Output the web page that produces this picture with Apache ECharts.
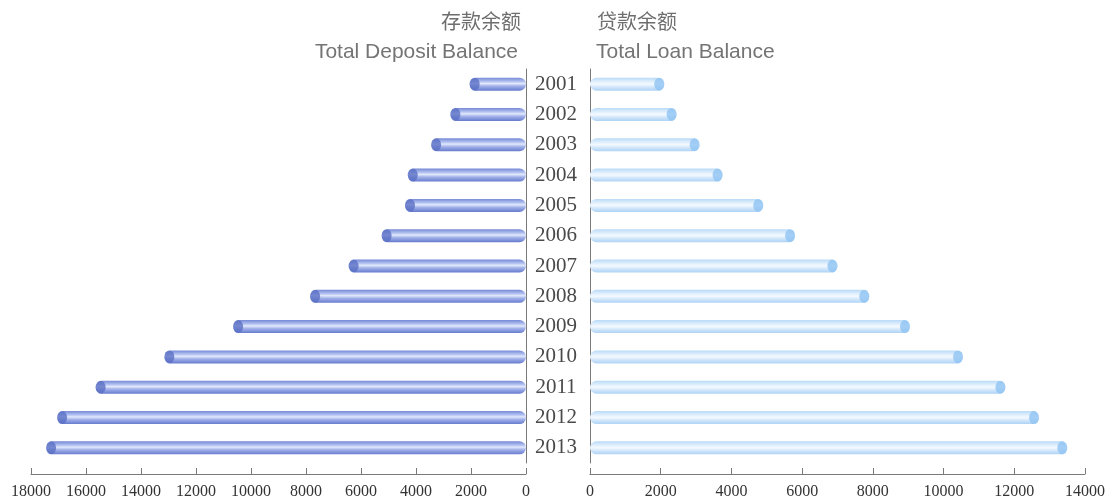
<!DOCTYPE html>
<html>
<head>
<meta charset="utf-8">
<script src="https://cdn.jsdelivr.net/npm/echarts@6/dist/echarts.min.js"></script>
<style>html,body{margin:0;padding:0;background:#fff;}#c{width:1108px;height:504px;}</style>
</head>
<body>
<div id="c"></div>
<script>
const years = ['2001','2002','2003','2004','2005','2006','2007','2008','2009','2010','2011','2012','2013'];
const deposit = [2050, 2750, 3450, 4300, 4400, 5250, 6450, 7850, 10650, 13150, 15650, 17050, 17450];
const loan = [2100, 2450, 3100, 3750, 4900, 5800, 7000, 7900, 9050, 10550, 11750, 12700, 13500];
const depositTicks = { min: 0, max: 18000, interval: 2000 };
const loanTicks = { min: 0, max: 14000, interval: 2000 };

const chart = echarts.init(document.getElementById('c'), null, { renderer: 'canvas' });
const serif = '"Liberation Serif", "DejaVu Serif", serif';
const sans = '"Liberation Sans", Arial, sans-serif';
const cjk = '"Noto Sans CJK SC", sans-serif';
const axisColor = '#7a7a7a';

const leftGrad = new echarts.graphic.LinearGradient(0, 0, 0, 1, [
  { offset: 0, color: '#7689d6' },
  { offset: 0.3, color: '#b3c2f1' },
  { offset: 0.45, color: '#e2e9fc' },
  { offset: 0.65, color: '#a2b1e9' },
  { offset: 1, color: '#667bcf' }
]);
const rightGrad = new echarts.graphic.LinearGradient(0, 0, 0, 1, [
  { offset: 0, color: '#b9daf8' },
  { offset: 0.35, color: '#e6f2fd' },
  { offset: 0.5, color: '#f3f9ff' },
  { offset: 0.75, color: '#cde4fa' },
  { offset: 1, color: '#afd3f5' }
]);

const xLabel = { fontFamily: serif, fontSize: 16, color: '#333', margin: 10, formatter: v => String(v) };

chart.setOption({
  animation: false,
  title: [
    { text: '存款余额', right: 1108 - 526, top: 6,
      textStyle: { fontFamily: cjk, fontSize: 20, fontWeight: 'normal', color: '#6e6e6e' } },
    { text: 'Total Deposit Balance', right: 1108 - 523, top: 37,
      textStyle: { fontFamily: sans, fontSize: 21, fontWeight: 'normal', color: '#747474' } },
    { text: '贷款余额', left: 592, top: 6,
      textStyle: { fontFamily: cjk, fontSize: 20, fontWeight: 'normal', color: '#6e6e6e' } },
    { text: 'Total Loan Balance', left: 591, top: 37,
      textStyle: { fontFamily: sans, fontSize: 21, fontWeight: 'normal', color: '#747474' } }
  ],
  grid: [
    { left: 31, right: 1108 - 526, top: 69, height: 394 },
    { left: 590, right: 1108 - 1087, top: 69, height: 394 }
  ],
  xAxis: [
    { gridIndex: 0, type: 'value', inverse: true, min: depositTicks.min, max: depositTicks.max, interval: depositTicks.interval,
      offset: 11,
      axisLine: { show: true, lineStyle: { color: axisColor } },
      axisTick: { show: true, inside: true, length: 6, lineStyle: { color: axisColor } },
      splitLine: { show: false },
      axisLabel: xLabel },
    { gridIndex: 1, type: 'value', min: loanTicks.min, max: loanTicks.max, interval: loanTicks.interval,
      offset: 11,
      axisLine: { show: true, lineStyle: { color: axisColor } },
      axisTick: { show: true, inside: true, length: 6, lineStyle: { color: axisColor } },
      splitLine: { show: false },
      axisLabel: xLabel }
  ],
  yAxis: [
    { gridIndex: 0, type: 'category', data: years, inverse: true, position: 'right',
      axisLine: { show: true, lineStyle: { color: axisColor } },
      axisTick: { show: false },
      axisLabel: { align: 'center', margin: 30, fontFamily: serif, fontSize: 21, color: '#4a4a4a' } },
    { gridIndex: 1, type: 'category', data: years, inverse: true, position: 'left',
      axisLine: { show: true, lineStyle: { color: axisColor } },
      axisTick: { show: false },
      axisLabel: { show: false } }
  ],
  series: [
    { name: '存款余额', type: 'bar', xAxisIndex: 0, yAxisIndex: 0, data: deposit,
      barWidth: 13, itemStyle: { color: leftGrad, borderRadius: 6.5 } },
    { name: '存款余额端', type: 'scatter', xAxisIndex: 0, yAxisIndex: 0,
      data: deposit.map((v, i) => [v, years[i]]),
      symbol: 'circle', symbolSize: [10, 13], symbolOffset: [5, 0],
      itemStyle: { color: '#5a6fc4' }, z: 3 },
    { name: '贷款余额', type: 'bar', xAxisIndex: 1, yAxisIndex: 1, data: loan,
      barWidth: 13, itemStyle: { color: rightGrad, borderRadius: 6.5 } },
    { name: '贷款余额端', type: 'scatter', xAxisIndex: 1, yAxisIndex: 1,
      data: loan.map((v, i) => [v, years[i]]),
      symbol: 'circle', symbolSize: [10, 13], symbolOffset: [-5, 0],
      itemStyle: { color: '#8fc3f2' }, z: 3 }
  ]
});
</script>
</body>
</html>
